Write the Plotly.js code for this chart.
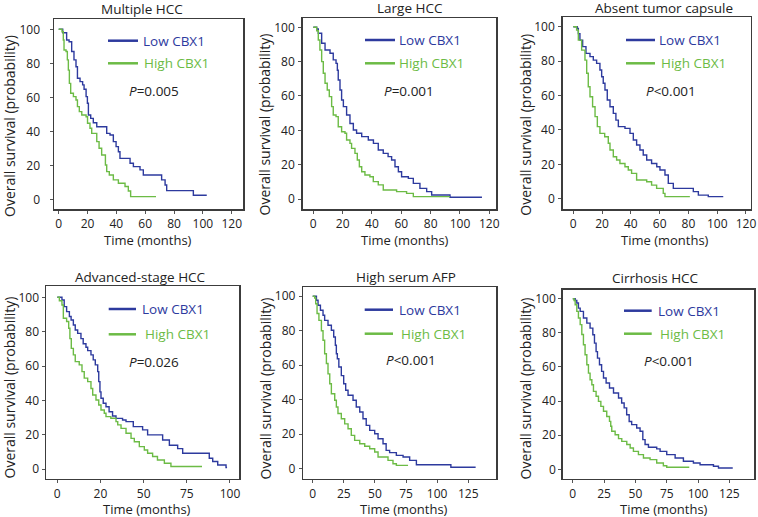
<!DOCTYPE html>
<html><head><meta charset="utf-8">
<script src="https://cdn.plot.ly/plotly-3.0.1.min.js"></script>
<style>html,body{margin:0;padding:0;background:#fff}#chart{width:758px;height:517px}</style>
</head><body><div id="chart"></div>
<script>
// ---------- data (months, survival %) ----------
const multipleLowT = [0, 2.8, 5.5, 7.2, 9, 10.6, 12, 13, 14.8, 16.6, 17.6, 19, 19.9, 20.6, 22.2, 24, 26.4, 33.3, 35.6, 37.9, 39.8, 41.4, 42.5, 49.5, 51.8, 56.4, 58.7, 71.4, 73.8, 74.9, 93.4, 102.7];
const multipleLowS = [100, 98, 93.7, 92.7, 86.9, 82, 78, 71.2, 69.2, 67.3, 64.7, 60.4, 56.5, 49.6, 47.6, 45, 42.7, 38.8, 37.8, 33.9, 31, 28, 24.1, 21.2, 19.2, 17.3, 14.3, 11.4, 8.4, 5.1, 2.4, 2.4];
const multipleHighT = [0, 2.3, 3.2, 3.7, 5.1, 6, 6.7, 7.4, 8.3, 10.2, 12, 13, 14.3, 16, 19, 20, 21.7, 22.9, 26.4, 28, 29.8, 32.4, 33.3, 35.1, 37.9, 41.4, 46, 48.3, 49.9, 67.5];
const multipleHighS = [100, 98.6, 93.7, 87.8, 86.9, 82, 76, 68.2, 62.4, 60.4, 58.4, 54.5, 51.6, 49.6, 48.6, 44.7, 41.8, 38.8, 33.9, 30, 26.1, 20.2, 16.3, 14.3, 11.4, 9.4, 7.5, 4.9, 1.6, 1.6];

const largeLowT = [0, 2.3, 3.4, 5.7, 8, 11.4, 13.6, 15.5, 16.4, 17, 18.2, 19.3, 20.5, 22.7, 25, 27.3, 29.5, 33, 37.5, 41, 44.3, 47.7, 51, 53.4, 55.7, 58, 60.2, 64.8, 68.2, 72.7, 77.3, 80.7, 93.2, 115];
const largeLowS = [100, 99, 96.5, 90.7, 86.8, 84.9, 81, 79, 75, 69.3, 63.5, 57.7, 53.8, 48.9, 44, 40.2, 38.3, 36.3, 34.4, 32.4, 28.5, 26.6, 24.7, 22.7, 18.8, 15.9, 13, 12, 9.1, 6.2, 4.3, 2.3, 1, 1];
const largeHighT = [0, 2.3, 3.4, 4.5, 5.7, 6.8, 8, 9.5, 10.9, 12.5, 13.6, 15.5, 17, 19.3, 21.6, 22.7, 25, 26.1, 28.4, 30, 31.4, 33, 35.2, 38.6, 40.9, 44.3, 47.7, 56.8, 63.6, 68.2, 93.2];
const largeHighS = [100, 98, 92.6, 86.8, 80, 73.2, 67.4, 63.5, 59.6, 53.8, 48.9, 48, 42.1, 39.2, 38.3, 34.4, 32.4, 29.5, 26.6, 22.7, 18.8, 15.9, 14, 13, 10.1, 8.2, 5.2, 4.3, 3.3, 1.4, 1.4];

const absentLowT = [0, 2.8, 3.5, 4.6, 6.5, 8.8, 11.6, 13.9, 16.2, 18.5, 19.7, 20.8, 22, 23.6, 25.5, 27.8, 29.6, 31.3, 35.9, 39.4, 41.7, 44, 46.3, 48.6, 51, 54.4, 58, 60.2, 63.7, 66, 69.5, 83.4, 86.9, 93.8, 104.2];
const absentLowS = [100, 99, 96, 92.2, 88.4, 84.5, 82.6, 80.6, 78.7, 74.8, 70.9, 67.1, 63.2, 57.4, 53.5, 49.6, 45.7, 41.9, 40.9, 38, 34.1, 31.2, 28.3, 25.4, 22.5, 20.5, 18.6, 16.7, 13.8, 8.9, 6, 4.1, 2.1, 1.2, 1.2];
const absentHighT = [0, 2.3, 3.5, 5.8, 8.1, 9.3, 10.4, 11.6, 13.4, 15.1, 16.7, 18.5, 21.8, 24.3, 25.5, 27.8, 30.1, 32.4, 35.9, 38.2, 40.5, 44, 51, 54.4, 57.9, 62.5, 63.7, 81];
const absentHighS = [100, 98, 92.2, 86.4, 80.6, 72.9, 65.1, 59.3, 53.5, 47.7, 41.9, 38, 36, 32.2, 28.3, 24.4, 22.5, 20.5, 18.6, 16.7, 14.7, 10.9, 9.9, 7.9, 6, 3.1, 1.2, 1.2];

const advancedLowT = [0, 2.7, 4, 5.4, 7, 8, 9.3, 10.4, 11.8, 13.7, 15, 16.6, 17.6, 19.5, 20.8, 22, 23.4, 24, 24.7, 25.3, 26.6, 28.2, 30, 32, 34, 37.8, 39.8, 44, 49.4, 52.3, 61, 64.9, 69.7, 72.6, 88, 90, 92.9, 97.7, 98.3];
const advancedLowS = [100, 98.4, 94.6, 91.7, 88.8, 86.8, 83.9, 81, 79, 76, 73, 71, 69, 66.5, 63.6, 60.7, 56.8, 51, 45, 41.3, 38.4, 36.4, 33.5, 31, 29.6, 28.7, 27.7, 24.8, 22.9, 20, 17, 14, 12, 9.3, 6.4, 4.5, 2.5, 1, 1];
const advancedHighT = [0, 1.2, 2.7, 3.5, 5.4, 6.6, 7.3, 8.1, 9.3, 10.4, 12.7, 14.3, 15.6, 17.6, 19.5, 20.5, 22.4, 24, 25.3, 27.2, 28.2, 31, 34, 35, 36.9, 39.8, 42.7, 44.6, 47.5, 50.4, 52.3, 55.2, 58, 62, 65.8, 83.8];
const advancedHighS = [100, 98, 95.5, 87.8, 85.9, 82, 76, 70.3, 66.5, 62.6, 60.7, 56.8, 53, 51, 47, 43.2, 40.3, 37.4, 34.5, 32.6, 30.6, 29.7, 27.7, 25.8, 23.8, 21, 18, 16, 13.2, 11.2, 9.3, 7.4, 5.4, 3.5, 1.6, 1.6];

const afpLowT = [0, 3, 4.3, 6.2, 8.3, 9.6, 12.3, 15, 16.9, 18.2, 19, 19.8, 21, 23, 24.9, 26.5, 28.4, 32.4, 35, 37.8, 40.4, 43, 45.8, 49.8, 52.5, 56.5, 59, 61.8, 67.2, 72.6, 77.9, 83.3, 111, 130.9];
const afpLowS = [100, 97.7, 94.8, 91.9, 89, 86, 83.2, 80.3, 76.4, 71.6, 66.7, 63.8, 59, 54, 49.3, 45.5, 42.6, 39.7, 35.8, 32.9, 29, 25.1, 22.2, 20.3, 17.4, 14.5, 10.6, 9.3, 7.7, 6.8, 4.8, 2.3, 0.8, 0.8];
const afpHighT = [0, 1.6, 2.4, 3.5, 5, 7, 8.3, 9.6, 11, 12.3, 13.7, 15, 17.7, 19, 20.3, 23, 25.7, 28.4, 31, 33.7, 37.8, 41.8, 45.8, 49.8, 52.5, 60.5, 64.5, 67.2, 76.6];
const afpHighS = [100, 99, 95.7, 90, 86, 80, 74.5, 66.7, 61, 55, 49.3, 43.5, 39.7, 35.8, 32, 29, 26, 23.2, 19.3, 16.4, 14.5, 13, 11.6, 9.7, 6.8, 4.8, 2.9, 1.9, 1.9];

const cirrhosisLowT = [0, 1.9, 3.2, 4.5, 5.9, 8.5, 11.2, 13.8, 16, 17.3, 18.6, 19.7, 21.3, 23, 24.5, 26.6, 29.3, 32.5, 36.5, 39, 41, 43, 45, 47, 51, 53.7, 55.9, 57.7, 60.4, 67, 69.7, 75, 81.7, 88.3, 96.3, 101.6, 112.3, 116.3, 127.7];
const cirrhosisLowS = [100, 99, 97.5, 94.5, 92.6, 88.7, 85.7, 82.8, 78.9, 74, 69, 65.2, 61.3, 57.4, 53.5, 50.6, 47.7, 44.7, 41.8, 38.9, 36, 32, 28, 26.2, 24.2, 22.3, 17.4, 14.5, 12.9, 12, 10.5, 8.6, 6.6, 4.7, 3.7, 2.7, 1.8, 0.8, 0.8];
const cirrhosisHighT = [0, 1, 1.9, 3.2, 4.5, 5.9, 7.2, 8.5, 9.8, 11.2, 12.5, 13.8, 15.2, 16.5, 18.6, 20.5, 22.4, 24.5, 27.1, 29.3, 30.3, 31.1, 33.8, 36.5, 39.1, 43.1, 45.8, 48.4, 52.4, 56.4, 61.7, 67, 72.3, 75, 93];
const cirrhosisHighS = [100, 99, 96.5, 92.6, 88.7, 84.8, 79, 73, 67.2, 61.3, 56.4, 52.5, 49.6, 45.7, 42.8, 39.8, 36.9, 34, 31, 28.1, 25.2, 22.3, 20.3, 18, 16.4, 14.5, 12.5, 10.5, 8.6, 6.6, 5.7, 3.7, 2.1, 1.2, 1.2];

const panelTitles = ['Multiple HCC', 'Large HCC', 'Absent tumor capsule', 'Advanced-stage HCC', 'High serum AFP', 'Cirrhosis HCC'];
const pValues = ['<i>P</i>=0.005', '<i>P</i>=0.001', '<i>P</i><0.001', '<i>P</i>=0.026', '<i>P</i><0.001', '<i>P</i><0.001'];
const seriesNames = ['Low CBX1', 'High CBX1'];
const yTickVals = [0, 20, 40, 60, 80, 100];
const xTicksTop = [0, 20, 40, 60, 80, 100, 120];
const xTicksAdv = [0, 25, 50, 75, 100];
const xTextAdv = ['0', '20', '50', '75', '100'];
const xTicks125 = [0, 25, 50, 75, 100, 125];
const xTitle = 'Time (months)';
const yTitle = 'Overall survival (probability)';

// ---------- layout geometry (pixels) ----------
const W = 758, H = 517;
const BLUE = '#2d3a9e', GREEN = '#6cbb45', INK = '#222222';
const FONT = '"Open Sans", sans-serif';
const curves = [
  [[multipleLowT, multipleLowS], [multipleHighT, multipleHighS]],
  [[largeLowT, largeLowS], [largeHighT, largeHighS]],
  [[absentLowT, absentLowS], [absentHighT, absentHighS]],
  [[advancedLowT, advancedLowS], [advancedHighT, advancedHighS]],
  [[afpLowT, afpLowS], [afpHighT, afpHighS]],
  [[cirrhosisLowT, cirrhosisLowS], [cirrhosisHighT, cirrhosisHighS]]
];
const geo = [
  {frame:[54,19.3,243,209.3], xr:[-3.26,127.84], yr:[-5.88,105.88], xt:xTicksTop, title:[142,9], yt:[9,126], xtl:[148,240],
   leg:[108,138,40.7,63.3,141.7,142.7,128,90.7], ysoff:7},
  {frame:[302.7,18.3,496,209.3], xr:[-7.23,124.57], yr:[-6.0,105.24], xt:xTicksTop, title:[410,7.5], yt:[264.5,125], xtl:[405,240],
   leg:[365,395,40,63.3,398.3,398.3,383.3,90.7], ysoff:1},
  {frame:[562.7,17.3,750.7,209.3], xr:[-7.37,123.27], yr:[-6.16,105.47], xt:xTicksTop, title:[664,7.5], yt:[525.7,125], xtl:[665,240],
   leg:[626,655,40,63.3,658.3,660,645,90.7], ysoff:1},
  {frame:[46,286.3,239.3,478.7], xr:[-6.54,105.39], yr:[-5.47,106.4], xt:xTicksAdv, xtt:xTextAdv, title:[140.7,277], yt:[8.5,388], xtl:[147,509],
   leg:[108.7,136,309,334.3,141,143.7,127.7,362.3], ysoff:0},
  {frame:[303.3,287.3,496.3,478.7], xr:[-7.55,147.5], yr:[-5.8,105.2], xt:xTicks125, title:[405.7,277], yt:[264.5,389], xtl:[404,509],
   leg:[364.7,393,309.7,333.7,398,399.7,384.7,360.3], ysoff:1},
  {frame:[562.7,289.7,754.3,478.7], xr:[-8.06,144.9], yr:[-5.51,105.3], xt:xTicks125, title:[655,278], yt:[524.5,389], xtl:[664,509],
   leg:[624,651.7,310.7,333.7,656.7,659,643.3,361.3], ysoff:0}
];
const px = v => v / W, py = v => 1 - v / H;

const traces = [], annotations = [], shapes = [];
const layout = {
  width: W, height: H, margin: {l:0, r:0, t:0, b:0},
  paper_bgcolor: '#ffffff', plot_bgcolor: '#ffffff',
  showlegend: false, font: {family: FONT, color: INK, size: 12}
};

geo.forEach((g, i) => {
  const sfx = i === 0 ? '' : String(i + 1);
  const [L, T, R, B] = g.frame;
  const axCommon = {
    showline: true, mirror: true, linecolor: '#3c3c3c', linewidth: 1.5,
    ticks: 'outside', ticklen: 3, tickwidth: 1, tickcolor: '#555',
    showgrid: false, zeroline: false, fixedrange: true,
    tickfont: {family: FONT, size: 12, color: INK}
  };
  layout['xaxis' + sfx] = Object.assign({}, axCommon, {
    domain: [px(L), px(R)], anchor: 'y' + sfx, range: g.xr,
    tickmode: 'array', tickvals: g.xt, ticktext: g.xtt || g.xt.map(String)
  });
  layout['yaxis' + sfx] = Object.assign({}, axCommon, {
    domain: [py(B), py(T)], anchor: 'x' + sfx, range: g.yr,
    tickmode: 'array', tickvals: yTickVals, ticklabelstandoff: g.ysoff
  });
  [BLUE, GREEN].forEach((c, k) => {
    traces.push({
      type: 'scatter', mode: 'lines', name: seriesNames[k],
      x: curves[i][k][0], y: curves[i][k][1],
      xaxis: 'x' + sfx, yaxis: 'y' + sfx,
      line: {color: c, width: 1.4, shape: 'hv'}, hoverinfo: 'skip'
    });
  });
  const [lx0, lx1, ly1, ly2, tx1, tx2, ppx, ppy] = g.leg;
  shapes.push({type:'line', xref:'paper', yref:'paper', x0:px(lx0), x1:px(lx1), y0:py(ly1), y1:py(ly1), line:{color:BLUE, width:2.5}});
  shapes.push({type:'line', xref:'paper', yref:'paper', x0:px(lx0), x1:px(lx1), y0:py(ly2), y1:py(ly2), line:{color:GREEN, width:2.5}});
  const ann = (text, x, y, opts) => annotations.push(Object.assign({
    text, x: px(x), y: py(y), xref: 'paper', yref: 'paper', showarrow: false,
    xanchor: 'center', yanchor: 'middle', borderpad: 0,
    font: {family: FONT, size: 13.5, color: INK}
  }, opts || {}));
  ann(seriesNames[0], tx1, ly1, {xanchor: 'left', font: {family: FONT, size: 13.5, color: BLUE}});
  ann(seriesNames[1], tx2, ly2, {xanchor: 'left', font: {family: FONT, size: 13.5, color: GREEN}});
  ann(pValues[i], ppx, ppy, {xanchor: 'left'});
  ann(panelTitles[i], g.title[0], g.title[1]);
  ann(xTitle, g.xtl[0], g.xtl[1], {font: {family: FONT, size: 13, color: INK}});
  ann(yTitle, g.yt[0], g.yt[1], {textangle: -90, font: {family: FONT, size: 14, color: INK}});
});
layout.annotations = annotations;
layout.shapes = shapes;

Plotly.newPlot('chart', traces, layout, {staticPlot: true, displayModeBar: false});
</script>
</body></html>
